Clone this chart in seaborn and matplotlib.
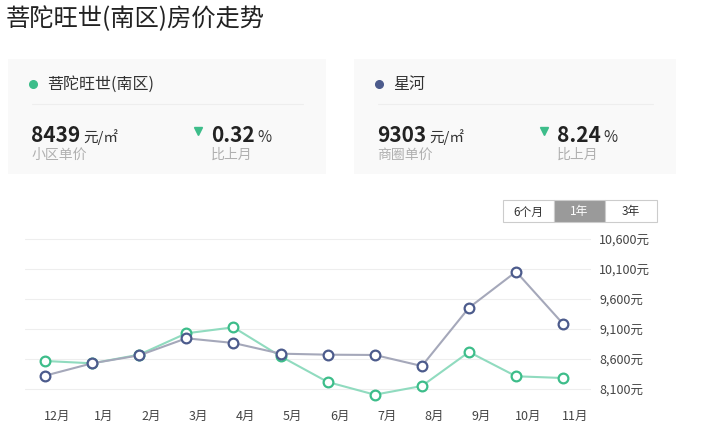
import pandas as pd
import matplotlib
matplotlib.use('Agg')
import matplotlib.pyplot as plt
import matplotlib.transforms as mtransforms
from matplotlib.lines import Line2D
from matplotlib.patches import Rectangle
import seaborn as sns

# chart data
months = ['12月', '1月', '2月', '3月', '4月', '5月', '6月', '7月', '8月', '9月', '10月', '11月']
estate_prices = [8567, 8528, 8672, 9028, 9128, 8645, 8217, 8005, 8150, 8717, 8312, 8283]
district_prices = [8322, 8528, 8661, 8945, 8867, 8689, 8672, 8667, 8483, 9455, 10055, 9183]
y_ticks = [8100, 8600, 9100, 9600, 10100, 10600]

estate_name = '菩陀旺世(南区)'
district_name = '星河'
estate_price, estate_change = '8439', '0.32'
district_price, district_change = '9303', '8.24'
ranges = ['6个月', '1年', '3年']

GREEN = '#3dbd8a'
GREEN_LINE = '#90dbbf'
BLUE = '#4c5b8c'
BLUE_LINE = '#a5a8ba'

sns.set_theme(style='white')
plt.rcParams['font.family'] = ['Noto Sans CJK SC', 'DejaVu Sans']

W, H = 728, 439
fig = plt.figure(figsize=(W / 100, H / 100), dpi=100)
fig.patch.set_facecolor('white')


def fx(x):
    return x / W


def fy(y):
    return 1 - y / H


def txt(x, y, s, **kw):
    fig.text(fx(x), fy(y), s, **kw)


# title
txt(6, 19, estate_name + '房价走势', fontsize=17.5, color='#222222', va='center')


def card(x0, x1, dot_color, name, price, price_label, change):
    fig.add_artist(Rectangle((fx(x0), fy(175)), fx(x1 - x0), (175 - 60) / H,
                             transform=fig.transFigure, facecolor='#f9f9f9',
                             edgecolor='none', zorder=0))
    fig.add_artist(Line2D([fx(x0 + 25)], [fy(85)], transform=fig.transFigure,
                          marker='o', markersize=5.5, color=dot_color, linestyle='none'))
    txt(x0 + 39, 84, name, fontsize=11.5, color='#333333', va='center')
    fig.add_artist(Line2D([fx(x0 + 24), fx(x1 - 23)], [fy(105), fy(105)],
                          transform=fig.transFigure, color='#eeeeee', lw=0.8))
    txt(x0 + 23, 142, price, fontsize=15, fontweight='bold', color='#222222', va='baseline')
    txt(x0 + 75, 142, '元/㎡', fontsize=10.5, color='#333333', va='baseline')
    txt(x0 + 23, 155, price_label, fontsize=10, color='#b0b0b0', va='center')
    fig.add_artist(Line2D([fx(x0 + 190)], [fy(132)], transform=fig.transFigure,
                          marker='v', markersize=6, color=GREEN, linestyle='none'))
    txt(x0 + 203, 142, change, fontsize=15, fontweight='bold', color='#222222', va='baseline')
    txt(x0 + 249, 142, '%', fontsize=11, color='#333333', va='baseline')
    txt(x0 + 203, 155, '比上月', fontsize=10, color='#b0b0b0', va='center')


card(8, 326, GREEN, estate_name, estate_price, '小区单价', estate_change)
card(354, 676, BLUE, district_name, district_price, '商圈单价', district_change)

# range buttons
bx = [503, 554, 605, 657]
for i, label in enumerate(ranges):
    active = label == '1年'
    fig.add_artist(Rectangle((fx(bx[i]), fy(223)), fx(bx[i + 1] - bx[i]), 22 / H,
                             transform=fig.transFigure,
                             facecolor='#9a9a9a' if active else 'white',
                             edgecolor='#cccccc', lw=0.8))
    txt((bx[i] + bx[i + 1]) / 2, 212, label, fontsize=8.5,
        color='white' if active else '#333333', ha='center', va='center')

# chart
ax = fig.add_axes([fx(25), fy(392), fx(591 - 25), (392 - 238) / H])
df = pd.DataFrame({'month': months, 'estate': estate_prices, 'district': district_prices})
sns.lineplot(data=df, x='month', y='estate', ax=ax, color=GREEN_LINE, lw=1.5,
             marker='o', markersize=7, markerfacecolor='white',
             markeredgecolor=GREEN, markeredgewidth=1.6, sort=False, clip_on=False)
sns.lineplot(data=df, x='month', y='district', ax=ax, color=BLUE_LINE, lw=1.5,
             marker='o', markersize=7, markerfacecolor='white',
             markeredgecolor=BLUE, markeredgewidth=1.6, sort=False, clip_on=False)

ax.set_xlim(-0.425, 11.59)
ax.set_ylim(8100 - 2 * 500 / 30, 10600 + 2 * 500 / 30)
ax.set_yticks(y_ticks)
ax.set_yticklabels([f'{v:,}元' for v in y_ticks])
ax.yaxis.tick_right()
ax.set_xticks(range(len(months)))
ax.set_xticklabels(months)
ax.tick_params(axis='y', length=0, pad=6, labelsize=9, labelcolor='#444444')
ax.tick_params(axis='x', length=0, pad=13, labelsize=9, labelcolor='#444444')
offset = mtransforms.ScaledTranslation(12 / 100, 0, fig.dpi_scale_trans)
for lbl in ax.get_xticklabels():
    lbl.set_transform(lbl.get_transform() + offset)
ax.grid(axis='y', color='#eeeeee', lw=0.8)
ax.grid(axis='x', visible=False)
ax.set_axisbelow(True)
for s in ax.spines.values():
    s.set_visible(False)
ax.set_xlabel('')
ax.set_ylabel('')
ax.patch.set_alpha(0)

fig.savefig('out.png', dpi=100)
